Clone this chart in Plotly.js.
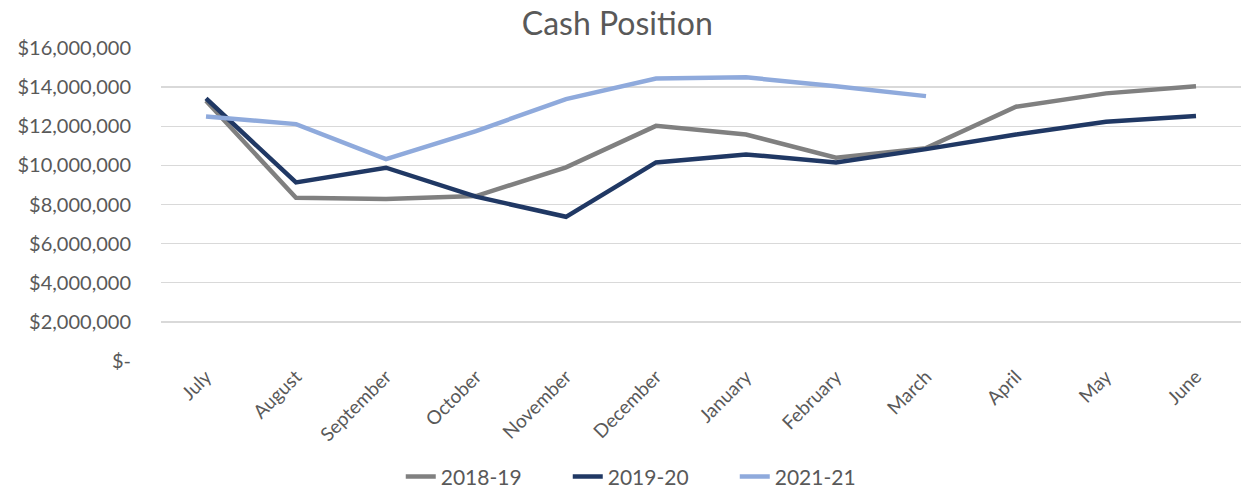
<!DOCTYPE html>
<html>
<head>
<meta charset="utf-8">
<script src="https://cdn.plot.ly/plotly-3.0.1.min.js"></script>
<style>html,body{margin:0;padding:0;background:#fff;}#chart{width:1242px;height:492px;}</style>
</head>
<body>
<div id="chart"></div>
<script>
const months = ["July","August","September","October","November","December","January","February","March","April","May","June"];
const s2018 = [13300000, 8340000, 8280000, 8430000, 9900000, 12020000, 11580000, 10390000, 10880000, 13000000, 13680000, 14050000];
const s2019 = [13420000, 9130000, 9880000, 8400000, 7370000, 10150000, 10560000, 10150000, 10830000, 11580000, 12230000, 12520000];
const s2021 = [12500000, 12110000, 10320000, 11750000, 13390000, 14440000, 14500000, 14050000, 13540000, null, null, null];
const seriesNames = ["2018-19", "2019-20", "2021-21"];
const yTickVals = [0, 2000000, 4000000, 6000000, 8000000, 10000000, 12000000, 14000000, 16000000];
const yTickText = ["$-", "$2,000,000", "$4,000,000", "$6,000,000", "$8,000,000", "$10,000,000", "$12,000,000", "$14,000,000", "$16,000,000"];

const font = "Lato, 'Open Sans', sans-serif";
const colors = ["#808080", "#203864", "#8FAADC"];
const data = [s2018, s2019, s2021].map((y, i) => ({
  x: months, y: y, name: seriesNames[i], type: "scatter", mode: "lines",
  line: {color: colors[i], width: 4.5}, connectgaps: false, hoverinfo: "skip"
}));

const layout = {
  width: 1242, height: 492,
  margin: {l: 161, r: 1, t: 48, b: 131, autoexpand: false},
  paper_bgcolor: "#fff", plot_bgcolor: "#fff",
  font: {family: font, color: "#595959", size: 16},
  title: {text: "Cash Position", x: 0.497, xanchor: "center", y: 0.952, yanchor: "middle",
          font: {family: font, size: 32, color: "#595959"}},
  xaxis: {type: "category", tickangle: -45, showgrid: false, zeroline: false, automargin: false,
          showline: false, ticks: "", tickfont: {size: 19, color: "#595959"},
          range: [-0.5, 11.5]},
  yaxis: {range: [0, 16000000], tickvals: yTickVals, ticktext: yTickText, automargin: false,
          showgrid: true, gridcolor: "#D9D9D9", gridwidth: 1.3, zeroline: false,
          showline: false, ticks: "", tickfont: {size: 20, color: "#595959"}, ticklabelstandoff: 29},
  legend: {orientation: "h", x: 0.222, xanchor: "left", y: -0.37, yanchor: "middle",
           font: {size: 21, color: "#595959"}, entrywidth: 122, entrywidthmode: "pixels", tracegroupgap: 0},
  showlegend: true
};
Plotly.newPlot("chart", data, layout, {staticPlot: true, displayModeBar: false});
</script>
</body>
</html>
